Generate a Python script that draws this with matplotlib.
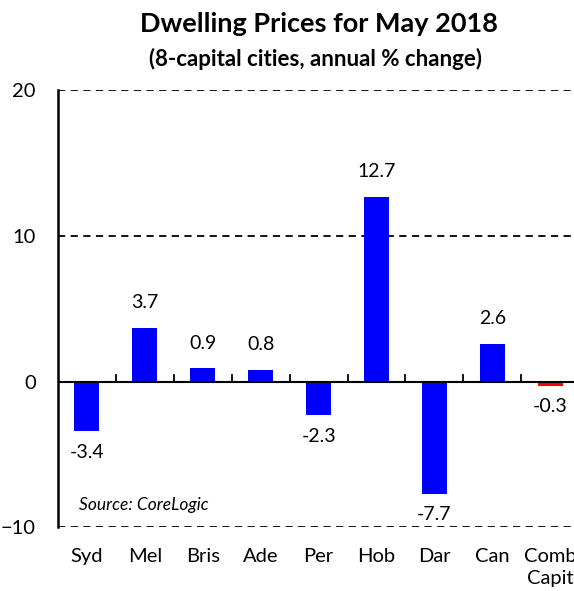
import matplotlib
matplotlib.use('Agg')
import matplotlib.pyplot as plt
import numpy as np

plt.rcParams['font.family'] = ['Lato', 'DejaVu Sans']

cities = ['Syd', 'Mel', 'Bris', 'Ade', 'Per', 'Hob', 'Dar', 'Can', 'Comb\nCapit']
changes = [-3.4, 3.7, 0.9, 0.8, -2.3, 12.7, -7.7, 2.6, -0.3]
colors = ['#0000FF'] * 8 + ['#FF0000']

fig = plt.figure(figsize=(5.74, 5.91), dpi=100)
ax = fig.add_axes([0.101, 0.108, 0.908, 0.739])

x = np.arange(len(cities))
ax.bar(x, changes, width=0.43, color=colors, zorder=3)

# value labels
for xi, v in zip(x, changes):
    if v >= 0:
        ax.annotate(f'{v:.1f}', (xi, v), xytext=(0, 12), textcoords='offset points',
                    ha='center', va='bottom', fontsize=14)
    else:
        ax.annotate(f'{v:.1f}', (xi, v), xytext=(0, -9), textcoords='offset points',
                    ha='center', va='top', fontsize=14)

ax.set_xlim(-0.5, len(cities) - 0.5)
ax.set_ylim(-10, 20)
ax.set_yticks([-10, 0, 10, 20])

# dashed gridlines
for yv in [-10, 10, 20]:
    ax.axhline(yv, color='black', linestyle=(0, (4, 3)), lw=1.3, zorder=1)
ax.axhline(0, color='black', lw=1.5, zorder=4)

for s in ['top', 'right', 'bottom']:
    ax.spines[s].set_visible(False)
ax.spines['left'].set_linewidth(1.8)

# category tick marks sit on the zero line, between bars
for xb in np.arange(0.5, len(cities) - 0.5, 1):
    ax.plot([xb, xb], [0, 0.45], color='black', lw=1.3, zorder=4, clip_on=False)

ax.set_xticks(x)
ax.set_xticklabels(cities, fontsize=14.5, linespacing=1.35)
ax.tick_params(axis='x', length=0, pad=15)
ax.tick_params(axis='y', length=0, labelsize=14.5, pad=16)

ax.text(0.04, 0.05, 'Source: CoreLogic', transform=ax.transAxes, fontsize=12.5,
        style='italic', ha='left', va='center')

fig.text(0.555, 0.96, 'Dwelling Prices for May 2018', ha='center', va='center',
         fontsize=19.5, fontweight='bold')
fig.text(0.549, 0.9, '(8-capital cities, annual % change)', ha='center', va='center',
         fontsize=16, fontweight='bold')

fig.savefig('out.png', dpi=100)
